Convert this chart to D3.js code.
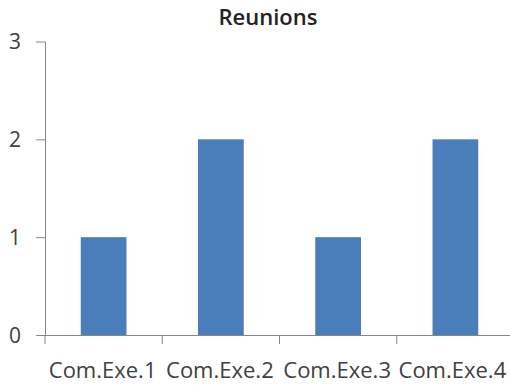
<!DOCTYPE html>
<html>
<head>
<meta charset="utf-8">
<script src="https://cdn.jsdelivr.net/npm/d3@7"></script>
<style>
  body { margin: 0; background: #fff; }
  text { font-family: "Open Sans", sans-serif; }
</style>
</head>
<body>
<div id="chart"></div>
<script>
let categories = ["Com.Exe.1", "Com.Exe.2", "Com.Exe.3", "Com.Exe.4"];
let values = [1, 2, 1, 2];
let yTicks = [0, 1, 2, 3];

let width = 510;
let height = 385;

let svg = d3.select('#chart')
  .append('svg')
  .attr('width', width)
  .attr('height', height);

let x = d3.scaleBand()
  .domain(categories)
  .range([45, 514])
  .paddingInner(0.61)
  .paddingOuter(0.305);

let band = d3.scaleBand().domain(categories).range([45, 514]);

let y = d3.scaleLinear()
  .domain([0, 3])
  .range([335, 41.5]);

// bars
svg.selectAll('rect.bar')
  .data(values)
  .enter()
  .append('rect')
  .attr('class', 'bar')
  .attr('x', (d, i) => x(categories[i]))
  .attr('y', d => y(d))
  .attr('width', x.bandwidth())
  .attr('height', d => y(0) - y(d))
  .style('fill', '#4a7ebb');

// y axis
let yAxis = svg.append('g')
  .attr('transform', 'translate(45,0)')
  .call(d3.axisLeft(y).tickValues(yTicks).tickFormat(d3.format('d')).tickSize(9).tickSizeOuter(0).tickPadding(15));
yAxis.select('.domain').attr('stroke', '#868686');
yAxis.selectAll('.tick line').attr('stroke', '#868686');
yAxis.selectAll('.tick text').attr('fill', '#404040').style('font-size', '21px').attr('dy', '0.34em');

// x axis
let xAxis = svg.append('g')
  .attr('transform', 'translate(0,335)')
  .call(d3.axisBottom(band).tickSize(0).tickSizeOuter(0).tickPadding(27));
xAxis.select('.domain').attr('stroke', '#868686').attr('d', 'M36,0.5H514');
xAxis.selectAll('.tick text')
  .attr('fill', '#404040')
  .style('font-size', '22px')
  .attr('dx', (d, i) => i === 3 ? '-3px' : '-1px');

// boundary ticks between categories
svg.append('g')
  .selectAll('line')
  .data(categories.concat(['end']))
  .enter()
  .append('line')
  .attr('x1', (d, i) => 45 + i * band.step())
  .attr('x2', (d, i) => 45 + i * band.step())
  .attr('y1', 335)
  .attr('y2', 344)
  .attr('stroke', '#868686');

svg.append('text')
  .attr('x', 268)
  .attr('y', 25)
  .attr('text-anchor', 'middle')
  .style('font-size', '22px')
  .style('font-weight', '600')
  .attr('fill', '#222')
  .text('Reunions');
</script>
</body>
</html>
